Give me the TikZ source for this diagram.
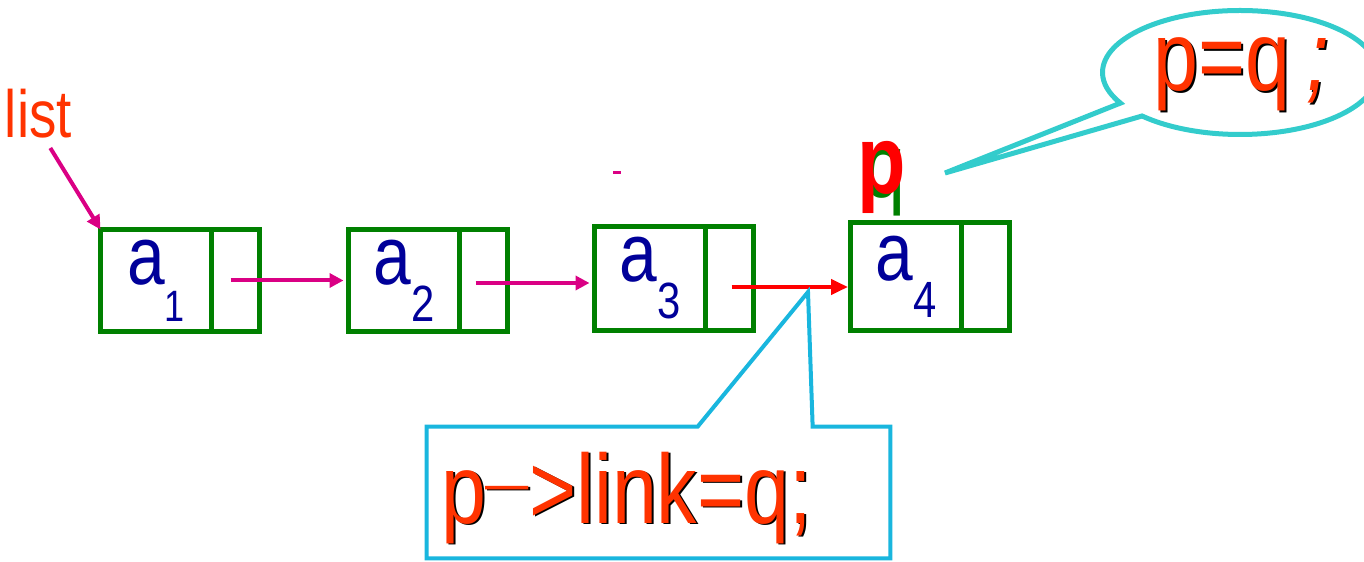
\documentclass[tikz,border=0pt]{standalone}
\usepackage{fontspec}
\setmainfont[FakeStretch=0.82]{Liberation Sans}
\usetikzlibrary{arrows.meta, positioning, shapes.callouts}

\definecolor{boxgreen}{RGB}{0,128,0}
\definecolor{idxblue}{RGB}{0,0,153}
\definecolor{ptrmagenta}{RGB}{218,0,132}
\definecolor{codered}{RGB}{255,51,0}
\definecolor{bubblecyan}{RGB}{51,204,204}
\definecolor{boxcyan}{RGB}{25,182,222}

\newcommand{\idx}[2][29]{\raisebox{-0.74cm}{\fontsize{#1}{#1}\selectfont #2}}

\begin{document}
\begin{tikzpicture}[
    datafield/.style={rectangle, draw=boxgreen, line width=0.09cm, outer sep=0pt, minimum width=2.22cm, minimum height=2.04cm, inner sep=0pt, text=idxblue, font=\fontsize{47}{47}\selectfont},
    linkfield/.style={rectangle, draw=boxgreen, line width=0.09cm, outer sep=0pt, minimum width=0.96cm, minimum height=2.04cm, inner sep=0pt},
    nextptr/.style={-{Triangle[length=0.28cm, width=0.28cm]}, line width=0.08cm, draw=ptrmagenta, shorten >=0.1cm},
    codetext/.style={inner sep=0pt, anchor=base west, text=codered, font=\fontsize{56}{56}\selectfont},
    codeshadow/.style={codetext, text=black},
    boxcallout/.style={draw=boxcyan, line width=0.08cm, line join=miter}
]
\useasboundingbox (0,0) rectangle (27.28,-11.24);

\node[datafield] (d1) at (3.12,-5.61) {a\idx[25]{1}};
\node[linkfield, right=0pt of d1] (l1) {};
\node[datafield] (d2) at (8.08,-5.61) {a\idx{2}};
\node[linkfield, right=0pt of d2] (l2) {};
\node[datafield, minimum height=2.08cm] (d3) at (13.0,-5.57) {a\idx{3}};
\node[linkfield, minimum height=2.08cm, right=0pt of d3] (l3) {};
\node[datafield, minimum height=2.16cm] (d4) at (18.12,-5.53) {a\idx{4}};
\node[linkfield, minimum height=2.16cm, right=0pt of d4] (l4) {};

\node[codetext, font=\fontsize{38}{38}\selectfont] (listlbl) at (0.09,-2.76) {list};
\draw[nextptr, shorten >=0pt] ([xshift=0.24cm,yshift=-0.18cm]listlbl.south) -- (d1.north west);

\draw[nextptr] ([xshift=-0.1cm]l1.center) -- (d2.west);
\draw[nextptr] ([xshift=-0.16cm,yshift=-0.05cm]l2.center) -- ([yshift=-0.09cm]d3.west);
\draw[nextptr, draw=red, shorten >=0.05cm, -{Triangle[length=0.34cm, width=0.3cm]}] ([xshift=0.04cm,yshift=-0.17cm]l3.center) -- ([yshift=-0.21cm]d4.west);

\draw[ptrmagenta, line width=0.05cm] (12.26,-3.45) -- (12.42,-3.45);

\node[codetext, text=boxgreen, font=\fontsize{51}{51}\selectfont] (qname) at (17.28,-3.96) {q};
\node[codetext, text=red, font=\bfseries\fontsize{55}{55}\selectfont] (pname) at (17.14,-3.88) {p};

\coordinate (ptip) at (18.9,-3.46);
\node[ellipse callout, draw=bubblecyan, line width=0.1cm, fill=white, minimum width=5.5cm, minimum height=2.48cm, inner sep=0pt, callout absolute pointer={(ptip)}] (pqbubble) at (24.8,-1.45) {};
\node[codeshadow] at (23.1,-1.85) {p=q\,\textit{;}};
\node[codetext] (assign) at (23.06,-1.82) {p=q\,\textit{;}};

\node[minimum width=9.26cm, minimum height=2.62cm, inner sep=0pt] (linkbox) at (13.17,-9.85) {};
\coordinate (ltip) at (16.16,-5.84);
\draw[boxcallout] (linkbox.south west) -- (linkbox.north west) -- ([xshift=5.42cm]linkbox.north west) -- (ltip) -- ([xshift=7.72cm]linkbox.north west) -- (linkbox.north east) -- (linkbox.south east) -- cycle;
\node[codeshadow] at ([shift={(0.32,-0.64)}]linkbox.west) {p\raisebox{0.44cm}{\fontsize{30}{30}\selectfont —}>link=q;};
\node[codetext] (linkset) at ([shift={(0.28,-0.61)}]linkbox.west) {p\raisebox{0.44cm}{\fontsize{30}{30}\selectfont —}>link=q;};
\end{tikzpicture}
\end{document}
